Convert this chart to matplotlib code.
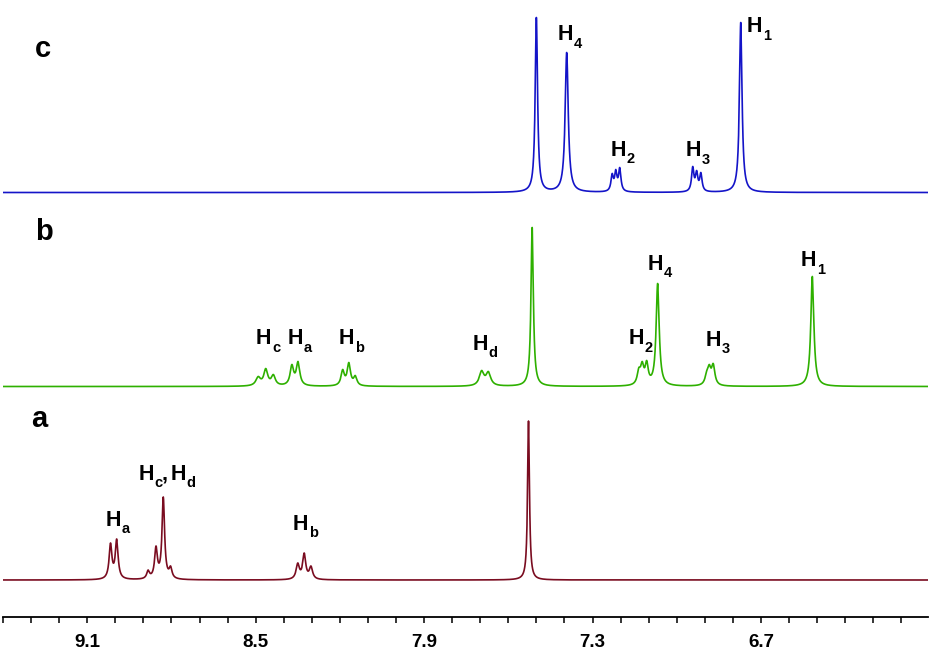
import numpy as np
import matplotlib
matplotlib.use("Agg")
import matplotlib.pyplot as plt

plt.rcParams['font.family'] = ['Liberation Sans', 'DejaVu Sans']

# ---------------- data (peak lists) ----------------
# spectrum c (blue)
c_ppm = [7.500, 7.392, 7.234, 7.230, 7.217, 7.203, 6.943, 6.929, 6.914, 6.772]
c_height = [175, 140, 12, 19, 23, 25, 26, 22, 20, 170]
c_width = [0.010, 0.013, 0.012, 0.010, 0.010, 0.010, 0.010, 0.010, 0.010, 0.011]

# spectrum b (green)
b_ppm = [8.491, 8.464, 8.437, 8.371, 8.349, 8.190, 8.168, 8.145,
         7.695, 7.671, 7.515, 7.135, 7.123, 7.107, 7.068, 6.893, 6.884, 6.870, 6.517]
b_height = [10, 18, 12, 22, 25, 17, 24, 11,
            16, 15, 159, 19, 25, 26, 103, 16, 22, 23, 110]
b_width = [0.020, 0.017, 0.017, 0.015, 0.015, 0.014, 0.014, 0.014,
           0.020, 0.020, 0.010, 0.014, 0.014, 0.013, 0.013, 0.015, 0.014, 0.014, 0.013]

# spectrum a (dark red)
a_ppm = [9.017, 8.995, 8.883, 8.855, 8.829, 8.803, 8.350, 8.327, 8.303, 7.528]
a_height = [37, 41, 10, 34, 83, 14, 17, 27, 14, 159]
a_width = [0.012, 0.012, 0.012, 0.012, 0.011, 0.012, 0.014, 0.013, 0.014, 0.008]

# peak labels: (subscript, ppm of left edge, height of "H" centre above axis)
labels_c = [('4', 7.423, 584), ('2', 7.237, 469), ('3', 6.968, 468), ('1', 6.751, 592)]
labels_b = [('c', 8.499, 280), ('a', 8.386, 280), ('b', 8.204, 280), ('d', 7.728, 275),
            ('2', 7.171, 280), ('4', 7.103, 355), ('3', 6.897, 279), ('1', 6.557, 358)]
labels_a = [('a', 9.033, 99), ('b', 8.368, 95)]
label_a_combined = (['c', 'd'], 8.918, 145)

trace_names = ['c', 'b', 'a']
trace_colors = ['#1414c8', '#2eb000', '#7a0c20']
baselines = [424.5, 230.5, 37.0]

ticks = [9.1, 8.5, 7.9, 7.3, 6.7]

# ---------------- figure ----------------
W, H = 933, 651
fig = plt.figure(figsize=(W / 100, H / 100), dpi=100)
ax_left, ax_right, ax_bottom_px = 3, 928, 617
ax = fig.add_axes([ax_left / W, (H - ax_bottom_px) / H,
                   (ax_right - ax_left) / W, ax_bottom_px / H])
x0, x1 = 9.400, 6.105
ax.set_xlim(x0, x1)
ax.set_ylim(0, ax_bottom_px)

x = np.linspace(x1, x0, 30000)


def spectrum(ppm, height, width):
    ppm = np.asarray(ppm)
    height = np.asarray(height, float)
    width = np.asarray(width)

    def lor(xx, c, w):
        return 1.0 / (1.0 + ((xx - c) / (w / 2.0)) ** 2)

    A = np.array([[lor(pi, pj, wj) for pj, wj in zip(ppm, width)] for pi in ppm])
    amp = np.clip(np.linalg.solve(A, height), 0, None)
    y = np.zeros_like(x)
    for p, a, w in zip(ppm, amp, width):
        y += a * lor(x, p, w)
    return y


sets = [(c_ppm, c_height, c_width), (b_ppm, b_height, b_width), (a_ppm, a_height, a_width)]
for (p, h, w), col, base in zip(sets, trace_colors, baselines):
    ax.plot(x, base + spectrum(p, h, w), color=col, lw=1.2, solid_joinstyle='round')

# trace letters
letter_pos = [(9.288, 568), (9.286, 385), (9.300, 198)]
for name, (lx, ly) in zip(trace_names, letter_pos):
    ax.text(lx, ly, name, fontsize=21, fontweight='bold', ha='left', va='center')

HSIZE = 15.5
SSIZE = 10.5
H_W = 15   # advance of bold "H" in pixels


def h_label(sub, lx, ly):
    # H with a lowered subscript; offsets in pixels
    ax.annotate('H', xy=(lx, ly), xytext=(0, -7.5), textcoords='offset pixels',
                fontsize=HSIZE, fontweight='bold', ha='left', va='baseline')
    ax.annotate(sub, xy=(lx, ly), xytext=(H_W + 1, -15), textcoords='offset pixels',
                fontsize=SSIZE, fontweight='bold', ha='left', va='baseline')


for labs in (labels_c, labels_b, labels_a):
    for s, lx, ly in labs:
        h_label(s, lx, ly)

subs, lx, ly = label_a_combined
h_label(subs[0], lx, ly)
ax.annotate(',', xy=(lx, ly), xytext=(H_W + 8, -7.5), textcoords='offset pixels',
            fontsize=HSIZE, fontweight='bold', ha='left', va='baseline')
h_label(subs[1], lx - 32 / 280.7, ly)

# axis styling
for s in ['top', 'left', 'right']:
    ax.spines[s].set_visible(False)
ax.spines['bottom'].set_linewidth(1.3)
ax.set_yticks([])
ax.set_xticks(ticks)
ax.set_xticklabels([f'{t:.1f}' for t in ticks], fontsize=13.5, fontweight='bold')
ax.set_xticks(np.arange(6.2, 9.41, 0.1), minor=True)
ax.tick_params(axis='x', which='both', direction='out', length=4, width=1.1, pad=8.5)
ax.patch.set_alpha(0)

fig.savefig('out.png', dpi=100)
